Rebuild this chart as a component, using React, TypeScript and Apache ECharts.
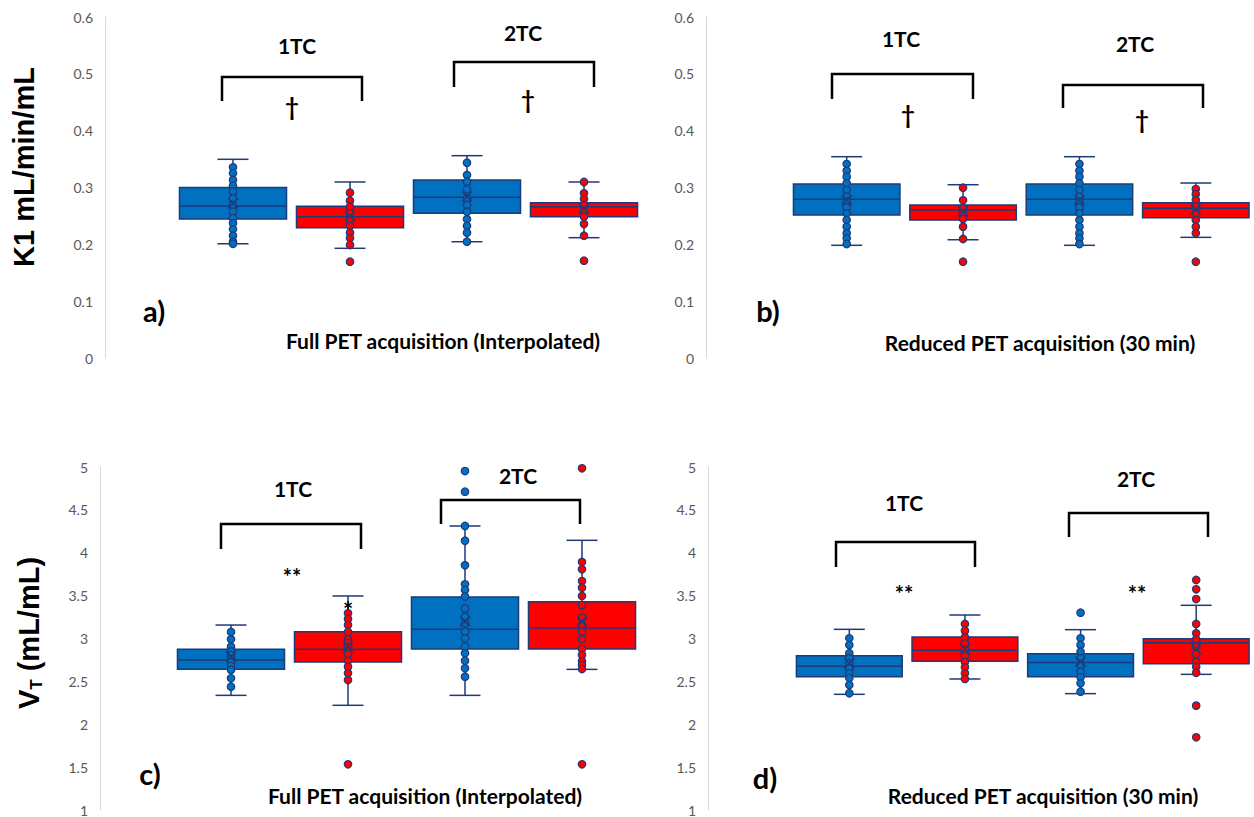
import React, { useEffect, useRef } from "react";
import * as echarts from "echarts";

// Categories (two compartment models, two methods each)
const groups = ["1TC blue", "1TC red", "2TC blue", "2TC red"];
const groupColors = ["#0070C0", "#FF0000", "#0070C0", "#FF0000"];

// Box statistics: [min, q1, median, q3, max, mean]
const k1FullBoxes = [
  [0.201, 0.2446, 0.2674, 0.3, 0.3496, 0.272],
  [0.193, 0.2293, 0.2486, 0.2669, 0.3097, 0.2498],
  [0.2046, 0.2546, 0.2827, 0.3132, 0.356, 0.284],
  [0.2117, 0.2486, 0.2662, 0.2733, 0.3097, 0.263],
];
const k1FullPoints = [
  [0.3355, 0.325, 0.3132, 0.303, 0.293, 0.281, 0.269, 0.2574, 0.2458, 0.237, 0.2264, 0.2152, 0.2046, 0.201],
  [0.2909, 0.2768, 0.2662, 0.2546, 0.2428, 0.2322, 0.2205, 0.2106, 0.1988, 0.1694],
  [0.3436, 0.322, 0.3102, 0.2968, 0.281, 0.2692, 0.2574, 0.244, 0.2322, 0.2205, 0.2046],
  [0.3097, 0.2898, 0.2797, 0.2692, 0.2592, 0.2486, 0.2357, 0.2152, 0.1712],
];

const k1ReducedBoxes = [
  [0.1983, 0.2516, 0.2792, 0.3061, 0.3542, 0.278],
  [0.2081, 0.2428, 0.2604, 0.2692, 0.3049, 0.258],
  [0.1983, 0.2516, 0.2792, 0.3061, 0.3542, 0.278],
  [0.2123, 0.2469, 0.2633, 0.2733, 0.3079, 0.262],
];
const k1ReducedPoints = [
  [0.3413, 0.3295, 0.319, 0.3073, 0.2955, 0.2838, 0.275, 0.265, 0.2545, 0.2428, 0.231, 0.2193, 0.2105, 0.2006],
  [0.2997, 0.2775, 0.2634, 0.2545, 0.2446, 0.231, 0.2094, 0.1694],
  [0.3413, 0.3295, 0.319, 0.3073, 0.2955, 0.2838, 0.275, 0.265, 0.2545, 0.2428, 0.231, 0.2193, 0.2105, 0.2006],
  [0.2973, 0.288, 0.278, 0.2662, 0.2545, 0.2428, 0.231, 0.2194, 0.1694],
];

const vtFullBoxes = [
  [2.337, 2.641, 2.749, 2.874, 3.157, 2.79],
  [2.221, 2.726, 2.874, 3.08, 3.496, 2.905],
  [2.337, 2.877, 3.107, 3.484, 4.312, 3.2],
  [2.64, 2.877, 3.122, 3.43, 4.145, 3.2],
];
const vtFullPoints = [
  [3.076, 2.99, 2.905, 2.85, 2.808, 2.76, 2.72, 2.68, 2.633, 2.536, 2.438],
  [3.294, 3.227, 3.157, 3.076, 2.99, 2.95, 2.905, 2.82, 2.74, 2.67, 2.594, 2.516, 1.533],
  [4.953, 4.712, 4.312, 4.14, 3.853, 3.632, 3.566, 3.49, 3.35, 3.254, 3.177, 3.08, 3.002, 2.905, 2.827, 2.74, 2.652, 2.555],
  [4.985, 3.892, 3.807, 3.67, 3.592, 3.496, 3.39, 3.243, 3.157, 3.08, 2.99, 2.877, 2.808, 2.734, 2.69, 2.644, 1.533],
];

const vtReducedBoxes = [
  [2.349, 2.555, 2.676, 2.8, 3.107, 2.71],
  [2.528, 2.734, 2.862, 3.017, 3.274, 2.88],
  [2.357, 2.555, 2.72, 2.823, 3.103, 2.73],
  [2.582, 2.706, 2.951, 2.998, 3.387, 2.88],
];
const vtReducedPoints = [
  [3.002, 2.924, 2.827, 2.77, 2.71, 2.65, 2.594, 2.536, 2.458, 2.361],
  [3.169, 3.091, 3.013, 2.943, 2.874, 2.8, 2.726, 2.664, 2.594, 2.528],
  [3.301, 3.002, 2.924, 2.846, 2.769, 2.69, 2.613, 2.547, 2.477, 2.38],
  [3.682, 3.574, 3.46, 3.169, 3.06, 2.99, 2.905, 2.82, 2.73, 2.67, 2.6, 2.217, 1.848],
];

const NAVY = "#1F3A78";

const panels = [
  { boxes: k1FullBoxes, points: k1FullPoints, grid: { left: 174.5, top: 17, width: 468, height: 341 }, offset: 69.5, min: 0, max: 0.6, interval: 0.1 },
  { boxes: k1ReducedBoxes, points: k1ReducedPoints, grid: { left: 788.5, top: 17, width: 468, height: 341 }, offset: 82.5, min: 0, max: 0.6, interval: 0.1 },
  { boxes: vtFullBoxes, points: vtFullPoints, grid: { left: 172.5, top: 467, width: 468, height: 343 }, offset: 72.5, min: 1, max: 5, interval: 0.5 },
  { boxes: vtReducedBoxes, points: vtReducedPoints, grid: { left: 791.5, top: 467, width: 468, height: 343 }, offset: 83.5, min: 1, max: 5, interval: 0.5 },
];

const renderBox = (params: any, api: any) => {
  const c = api.value(0);
  const pMin = api.coord([c, api.value(1)]);
  const pQ1 = api.coord([c, api.value(2)]);
  const pMed = api.coord([c, api.value(3)]);
  const pQ3 = api.coord([c, api.value(4)]);
  const pMax = api.coord([c, api.value(5)]);
  const bw = api.size([1, 0])[0] * 0.915;
  const cap = 31;
  const x = pMin[0];
  const ls = { stroke: NAVY, lineWidth: 1.5 };
  return {
    type: "group",
    children: [
      { type: "line", shape: { x1: x, y1: pMin[1], x2: x, y2: pMax[1] }, style: ls },
      { type: "line", shape: { x1: x - cap / 2, y1: pMin[1], x2: x + cap / 2, y2: pMin[1] }, style: ls },
      { type: "line", shape: { x1: x - cap / 2, y1: pMax[1], x2: x + cap / 2, y2: pMax[1] }, style: ls },
      {
        type: "rect",
        shape: { x: x - bw / 2, y: pQ3[1], width: bw, height: pQ1[1] - pQ3[1] },
        style: { fill: groupColors[c], stroke: NAVY, lineWidth: 1.5 },
      },
      { type: "line", shape: { x1: x - bw / 2, y1: pMed[1], x2: x + bw / 2, y2: pMed[1] }, style: { stroke: NAVY, lineWidth: 1.5 } },
    ],
  };
};

const renderMean = (params: any, api: any) => {
  const c = api.value(0);
  const p = api.coord([c, api.value(1)]);
  const s = 5;
  const ls = { stroke: NAVY, lineWidth: 1.5 };
  return {
    type: "group",
    children: [
      { type: "line", shape: { x1: p[0] - s, y1: p[1] - s, x2: p[0] + s, y2: p[1] + s }, style: ls },
      { type: "line", shape: { x1: p[0] - s, y1: p[1] + s, x2: p[0] + s, y2: p[1] - s }, style: ls },
    ],
  };
};

const txt = (text: string, x: number, y: number, size: number, extra: any = {}) => ({
  type: "text",
  x,
  y,
  z: 100,
  style: {
    text,
    fill: "#000",
    fontSize: size,
    fontWeight: "bold",
    fontFamily: "Lato",
    align: "center",
    verticalAlign: "middle",
    ...extra,
  },
});

const bracket = (x1: number, x2: number, top: number, bottom: number) => ({
  type: "polyline",
  z: 100,
  shape: { points: [[x1, bottom], [x1, top], [x2, top], [x2, bottom]] },
  style: { stroke: "#000", lineWidth: 2.5, fill: null },
});

const graphics = [
  // y-axis titles
  {
    type: "text",
    x: 24,
    y: 167,
    rotation: Math.PI / 2,
    style: { text: "K1 mL/min/mL", fill: "#000", fontSize: 29, fontWeight: "bold", fontFamily: "Liberation Sans", align: "center", verticalAlign: "middle" },
  },
  {
    type: "text",
    x: 26,
    y: 633,
    rotation: Math.PI / 2,
    style: {
      text: "{v|V}{t|T}{r| (mL/mL)}",
      fill: "#000",
      align: "center",
      verticalAlign: "middle",
      rich: {
        v: { fontSize: 29, fontWeight: "bold", fontFamily: "Liberation Sans", fill: "#000", lineHeight: 34, verticalAlign: "bottom" },
        t: { fontSize: 17, fontWeight: "bold", fontFamily: "Liberation Sans", fill: "#000", lineHeight: 34, verticalAlign: "bottom", padding: [0, 0, -2, 0] },
        r: { fontSize: 29, fontWeight: "bold", fontFamily: "Liberation Sans", fill: "#000", lineHeight: 34, verticalAlign: "bottom" },
      },
    },
  },
  // panel a
  txt("1TC", 297, 45, 21),
  bracket(222, 362, 77, 101),
  txt("†", 292, 106, 24),
  txt("2TC", 523, 32, 21),
  bracket(454, 594, 62, 87),
  txt("†", 528, 99, 24),
  txt("a)", 154, 310, 29),
  txt("Full PET acquisition (Interpolated)", 443, 340, 21),
  // panel b
  txt("1TC", 901, 38, 21),
  bracket(832, 973, 74, 99),
  txt("†", 908, 114, 24),
  txt("2TC", 1135, 43, 21),
  bracket(1063, 1203, 85, 108),
  txt("†", 1142, 119, 24),
  txt("b)", 768, 310, 29),
  txt("Reduced PET acquisition (30 min)", 1040, 342, 21),
  // panel c
  txt("1TC", 293, 488, 21),
  bracket(221, 361, 524, 549),
  txt("**", 292, 576, 22),
  txt("2TC", 518, 475, 21),
  bracket(441, 580, 500, 524),
  txt("*", 348, 610, 24),
  txt("c)", 150, 773, 29),
  txt("Full PET acquisition (Interpolated)", 425, 795, 21),
  // panel d
  txt("1TC", 904, 502, 21),
  bracket(836, 975, 542, 567),
  txt("**", 904, 593, 22),
  txt("2TC", 1136, 478, 21),
  bracket(1069, 1208, 513, 537),
  txt("**", 1137, 593, 22),
  txt("d)", 765, 777, 29),
  txt("Reduced PET acquisition (30 min)", 1043, 795, 21),
];

export default function App() {
  const ref = useRef<HTMLDivElement>(null);
  useEffect(() => {
    document.body.style.margin = "0";
    if (!ref.current) return;
    const chart = echarts.init(ref.current, undefined, { renderer: "svg" });
    const series: any[] = [];
    panels.forEach((p, i) => {
      series.push({
        type: "custom",
        xAxisIndex: i,
        yAxisIndex: i,
        renderItem: renderBox,
        encode: { x: 0, y: [1, 2, 3, 4, 5] },
        data: p.boxes.map((b, c) => [c, b[0], b[1], b[2], b[3], b[4]]),
        z: 2,
      });
      series.push({
        type: "scatter",
        xAxisIndex: i,
        yAxisIndex: i,
        symbol: "circle",
        symbolSize: 7.5,
        data: p.points.flatMap((arr, c) =>
          arr.map((v) => ({ value: [c, v], itemStyle: { color: groupColors[c], borderColor: NAVY, borderWidth: 1.2, opacity: 1 } }))
        ),
        z: 3,
      });
      series.push({
        type: "custom",
        xAxisIndex: i,
        yAxisIndex: i,
        renderItem: renderMean,
        encode: { x: 0, y: 1 },
        data: p.boxes.map((b, c) => [c, b[5]]),
        z: 4,
      });
    });
    chart.setOption({
      animation: false,
      backgroundColor: "#ffffff",
      grid: panels.map((p) => ({ ...p.grid, containLabel: false })),
      xAxis: panels.map((p, i) => ({
        type: "category",
        gridIndex: i,
        data: groups,
        show: false,
        boundaryGap: true,
      })),
      yAxis: panels.map((p, i) => ({
        type: "value",
        gridIndex: i,
        min: p.min,
        max: p.max,
        interval: p.interval,
        offset: p.offset,
        axisLine: { show: true, lineStyle: { color: "#D9D9D9", width: 1 } },
        axisTick: { show: false },
        splitLine: { show: false },
        axisLabel: { color: "#595959", fontSize: 14, fontFamily: "Lato", margin: 12 },
      })),
      series,
      graphic: graphics,
    });
    return () => chart.dispose();
  }, []);
  return (
    <div
      ref={ref}
      style={{ position: "absolute", left: 0, top: 0, width: 1254, height: 817, background: "#fff" }}
    />
  );
}
